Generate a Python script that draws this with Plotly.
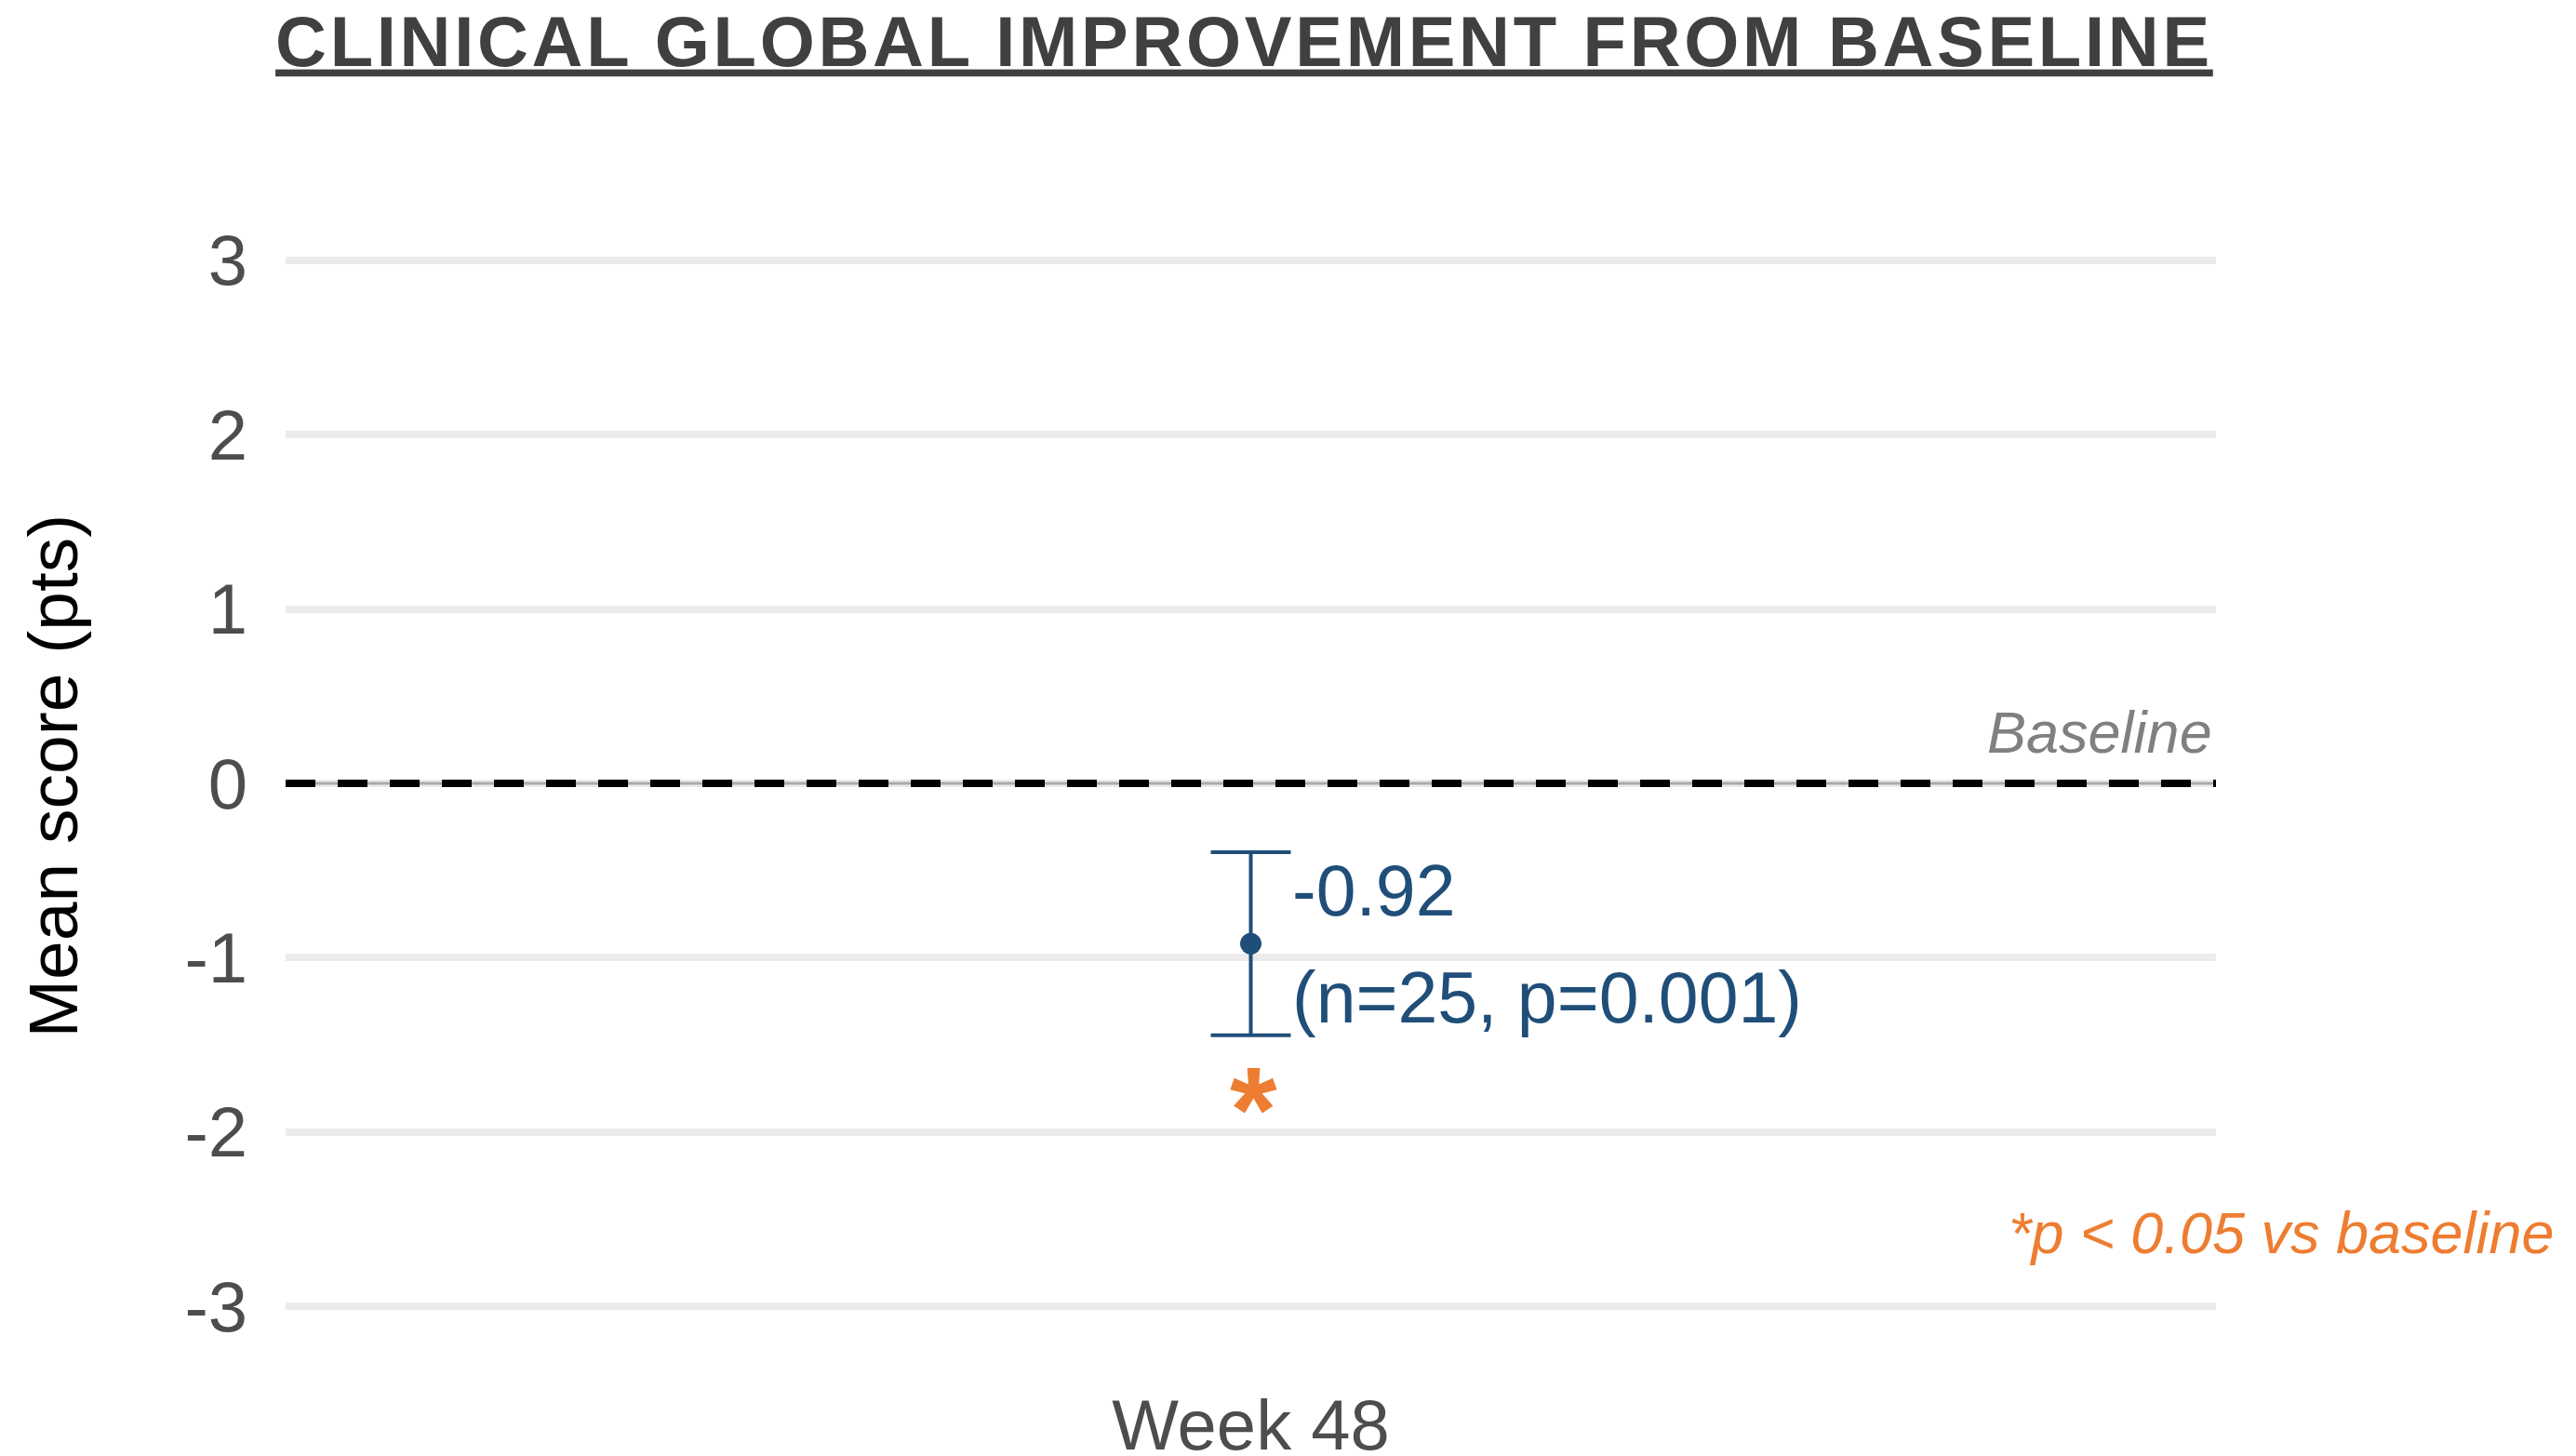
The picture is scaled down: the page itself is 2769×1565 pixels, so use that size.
import plotly.graph_objects as go

# ---- data ----
categories = ["Week 48"]
mean_change = [-0.92]
ci_half = [0.525]
n_patients = [25]
p_values = ["0.001"]
significant = [True]
baseline_value = 0
y_ticks = [-3, -2, -1, 0, 1, 2, 3]
y_tick_labels = ["-3", "-2", "-1", "0", "1", "2", "3"]

FONT = "Arial, Liberation Sans, sans-serif"
BLUE = "#1F4E79"
ORANGE = "#ED7D31"

fig = go.Figure()

fig.add_trace(go.Scatter(
    x=categories, y=mean_change, mode="markers",
    marker=dict(color=BLUE, size=23),
    error_y=dict(type="data", array=ci_half, visible=True,
                 color=BLUE, thickness=4, width=43),
    showlegend=False, hoverinfo="skip",
))

# baseline reference lines
fig.add_shape(type="line", xref="paper", x0=0, x1=1, yref="y",
              y0=baseline_value, y1=baseline_value,
              line=dict(color="#aaaaaa", width=3), layer="above")
fig.add_shape(type="line", xref="paper", x0=0, x1=1, yref="y",
              y0=baseline_value, y1=baseline_value,
              line=dict(color="black", width=8, dash="32px,24px"), layer="above")

annotations = []
for cat, m, e, n, p, sig in zip(categories, mean_change, ci_half, n_patients, p_values, significant):
    annotations.append(dict(x=cat, y=m, xref="x", yref="y", text=f"{m:.2f}",
                            showarrow=False, xanchor="left", yanchor="middle",
                            xshift=42, yshift=57,
                            font=dict(family=FONT, size=77, color=BLUE)))
    annotations.append(dict(x=cat, y=m, xref="x", yref="y", text=f"(n={n}, p={p})",
                            showarrow=False, xanchor="left", yanchor="middle",
                            xshift=42, yshift=-58,
                            font=dict(family=FONT, size=77, color=BLUE)))
    if sig:
        annotations.append(dict(x=cat, y=m - e, xref="x", yref="y", text="<b>*</b>",
                                showarrow=False, xanchor="center", yanchor="middle",
                                xshift=3, yshift=-80,
                                font=dict(family=FONT, size=130, color=ORANGE)))

annotations.append(dict(x=1, y=baseline_value, xref="paper", yref="y", text="<i>Baseline</i>",
                        showarrow=False, xanchor="right", yanchor="bottom",
                        xshift=-2, yshift=18,
                        font=dict(family=FONT, size=63, color="#808080")))
annotations.append(dict(x=1.1764, y=-2.58, xref="paper", yref="y",
                        text="<i>*p < 0.05 vs baseline</i>",
                        showarrow=False, xanchor="right", yanchor="middle",
                        font=dict(family=FONT, size=63, color=ORANGE)))
annotations.append(dict(x=-0.1205, y=0.5, xref="paper", yref="paper",
                        text="Mean score (pts)", textangle=-90,
                        showarrow=False, xanchor="center", yanchor="middle",
                        font=dict(family=FONT, size=75, color="black")))

fig.update_layout(
    template="none",
    width=2769, height=1565,
    margin=dict(l=307, r=387, t=186, b=84, pad=0),
    paper_bgcolor="white", plot_bgcolor="white",
    title=dict(
        text='<span style="letter-spacing:3.7px">CLINICAL GLOBAL IMPROVEMENT FROM BASELINE</span>',
        x=0.4966, xref="paper", xanchor="center",
        y=1 - 44 / 1565, yref="container", yanchor="middle",
        font=dict(family=FONT, size=76, color="#404040", weight="bold", lineposition="under"),
    ),
    xaxis=dict(showgrid=False, zeroline=False, showline=False, ticks="", automargin=False,
               tickfont=dict(family=FONT, size=76, color="#4d4d4d")),
    yaxis=dict(range=[-3.41, 3.5], tickvals=y_ticks, ticktext=y_tick_labels, showgrid=True,
               gridcolor="#ebebeb", gridwidth=8, zeroline=False, showline=False,
               ticks="", ticklabelstandoff=40, automargin=False,
               tickfont=dict(family=FONT, size=76, color="#4d4d4d")),
    annotations=annotations,
    showlegend=False,
)

fig.write_html("out.html")
